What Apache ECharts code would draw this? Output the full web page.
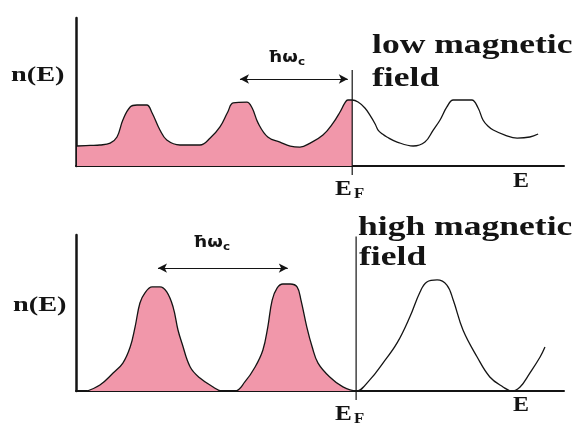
<!DOCTYPE html>
<html>
<head>
<meta charset="utf-8">
<script src="https://cdn.jsdelivr.net/npm/echarts@6/dist/echarts.min.js"></script>
<style>
  html, body { margin: 0; padding: 0; background: #ffffff; }
  #chart { width: 579px; height: 428px; }
</style>
</head>
<body>
<div id="chart"></div>
<script>
// Density of states n(E) of a 2D electron gas: Landau levels at low and high field.

// Low magnetic field: broadened, overlapping Landau levels
const lowFieldEnergy = [0.02, 0.29, 0.49, 0.70, 0.84, 0.96, 1.11, 1.25, 1.45, 1.56, 1.72, 1.86, 2.13, 2.54,
  2.75, 2.95, 3.11, 3.22, 3.50, 3.61, 3.73, 3.93, 4.18, 4.39, 4.59, 4.80, 5.06, 5.27, 5.41, 5.51, 5.57, 5.66,
  5.78, 5.92, 6.02, 6.13, 6.19, 6.28, 6.37, 6.58, 6.91, 7.15, 7.32, 7.46, 7.60, 7.73, 7.91, 8.11, 8.24, 8.34,
  8.44, 8.55, 8.79, 9.04, 9.30, 9.47];
const lowFieldDensity = [1.35, 1.39, 1.42, 1.55, 1.96, 3.11, 3.99, 4.12, 4.12, 3.58, 2.43, 1.76, 1.42, 1.42,
  1.89, 2.64, 3.65, 4.26, 4.32, 3.92, 2.91, 1.96, 1.62, 1.35, 1.28, 1.55, 2.09, 2.91, 3.65, 4.26, 4.46, 4.46,
  4.32, 3.92, 3.45, 2.84, 2.43, 2.16, 1.96, 1.62, 1.35, 1.62, 2.43, 3.11, 3.99, 4.46, 4.46, 4.46, 3.92, 3.11,
  2.70, 2.43, 2.09, 1.89, 1.96, 2.16];

// High magnetic field: well separated Landau levels
const highFieldEnergy = [0.23, 0.49, 0.76, 0.96, 1.11, 1.21, 1.31, 1.41, 1.56, 1.72, 1.86, 1.99, 2.09, 2.17,
  2.34, 2.54, 2.81, 2.99, 3.26, 3.46, 3.67, 3.83, 3.93, 4.02, 4.12, 4.24, 4.39, 4.53, 4.61, 4.73, 4.84, 4.96,
  5.20, 5.47, 5.74, 6.02, 6.29, 6.58, 6.84, 7.05, 7.19, 7.40, 7.60, 7.73, 7.93, 8.22, 8.48, 8.75, 8.93, 9.10,
  9.30, 9.51, 9.61];
const highFieldDensity = [0, 0.38, 1.15, 1.79, 2.82, 4.10, 5.64, 6.28, 6.67, 6.67, 6.35, 5.38, 3.91, 3.08,
  1.54, 0.83, 0.26, 0, 0, 0.58, 1.54, 2.63, 4.10, 5.83, 6.60, 6.86, 6.86, 6.67, 5.83, 4.10, 2.82, 1.79,
  0.90, 0.26, 0, 0.71, 1.79, 3.08, 4.74, 6.35, 6.99, 7.12, 6.79, 5.83, 3.91, 2.18, 0.90, 0.26, 0, 0.26,
  1.15, 2.18, 2.82];

// Fermi level and the extent of its marker line (below the axis for the tick)
const lowFermi = 5.66;
const highFermi = 5.74;
const lowFermiSpan = [-0.61, 6.49];
const highFermiSpan = [-0.58, 9.9];

// Landau level spacing ħω_c arrows: [from, to] and height
const lowSpacing = [3.36, 5.57];
const lowSpacingLevel = 5.88;
const highSpacing = [1.68, 4.34];
const highSpacingLevel = 7.88;

const axisRange = [0, 10];
const pink = '#f197aa';
const ink = '#141414';

function zip(xs, ys) { return xs.map((x, i) => [x, ys[i]]); }
function filled(pts, fermi) { return pts.filter(p => p[0] <= fermi); }

const lowPts = zip(lowFieldEnergy, lowFieldDensity);
const highPts = zip(highFieldEnergy, highFieldDensity);

const chart = echarts.init(document.getElementById('chart'), null, { renderer: 'canvas' });

function axisX(gridIndex) {
  return {
    type: 'value', gridIndex, min: axisRange[0], max: axisRange[1],
    axisLine: { show: true, onZero: true, lineStyle: { color: ink, width: 2 } },
    axisTick: { show: false }, axisLabel: { show: false }, splitLine: { show: false }
  };
}
function axisY(gridIndex) {
  return {
    type: 'value', gridIndex, min: axisRange[0], max: axisRange[1],
    axisLine: { show: true, lineStyle: { color: ink, width: 2.5 } },
    axisTick: { show: false }, axisLabel: { show: false }, splitLine: { show: false }
  };
}

const smooth = 0.4;

function panelSeries(idx, pts, fermi, span, spacing, level) {
  return [
    {
      type: 'line', xAxisIndex: idx, yAxisIndex: idx,
      data: filled(pts, fermi), smooth,
      showSymbol: false, symbol: 'none',
      lineStyle: { width: 0 },
      areaStyle: { color: pink, opacity: 1 },
      z: 1
    },
    {
      type: 'line', xAxisIndex: idx, yAxisIndex: idx,
      data: pts, smooth,
      showSymbol: false, symbol: 'none',
      lineStyle: { color: ink, width: 1.3 },
      z: 3,
      markLine: {
        silent: true, symbol: ['arrow', 'arrow'], symbolSize: [7, 9],
        label: { show: false },
        lineStyle: { color: ink, width: 1.2, type: 'solid' },
        data: [[{ coord: [spacing[0], level] }, { coord: [spacing[1], level] }]]
      }
    },
    {
      type: 'line', xAxisIndex: idx, yAxisIndex: idx,
      data: [[fermi, span[0]], [fermi, span[1]]],
      clip: false, showSymbol: false, symbol: 'none',
      lineStyle: { color: ink, width: 1.2 },
      z: 4
    }
  ];
}

const serif = '"Liberation Serif", "Times New Roman", serif';
const sans = '"DejaVu Sans", sans-serif';

function label(text, x, y, size, family, scaleX, weight) {
  return {
    type: 'text', x, y, scaleX: scaleX, scaleY: 1, z: 10,
    style: {
      text, fill: ink, align: 'left', verticalAlign: 'middle',
      font: (weight || 'bold') + ' ' + size + 'px ' + family
    }
  };
}

chart.setOption({
  animation: false,
  backgroundColor: '#ffffff',
  grid: [
    { left: 76, top: 18, width: 488, height: 148 },
    { left: 76, top: 235, width: 488, height: 156 }
  ],
  xAxis: [axisX(0), axisX(1)],
  yAxis: [axisY(0), axisY(1)],
  series: [
    ...panelSeries(0, lowPts, lowFermi, lowFermiSpan, lowSpacing, lowSpacingLevel),
    ...panelSeries(1, highPts, highFermi, highFermiSpan, highSpacing, highSpacingLevel)
  ],
  graphic: [
    // low-field panel
    label('n(E)', 11, 76, 21, serif, 1.35),
    label('low magnetic', 372, 46, 28, serif, 1.27),
    label('field', 372, 79, 28, serif, 1.27),
    label('ħω', 268, 58, 15, sans, 1.2),
    label('c', 298, 62, 10, sans, 1.2),
    label('E', 335, 190, 21, serif, 1.2),
    label('F', 354, 194, 14, serif, 1.2),
    label('E', 513, 182, 20, serif, 1.2),
    // high-field panel
    label('n(E)', 13, 306, 21, serif, 1.35),
    label('high magnetic', 358, 228, 28, serif, 1.27),
    label('field', 359, 258, 28, serif, 1.27),
    label('ħω', 193, 243, 15, sans, 1.2),
    label('c', 223, 247, 10, sans, 1.2),
    label('E', 335, 415, 21, serif, 1.2),
    label('F', 354, 419, 14, serif, 1.2),
    label('E', 513, 406, 20, serif, 1.2)
  ]
});
</script>
</body>
</html>
